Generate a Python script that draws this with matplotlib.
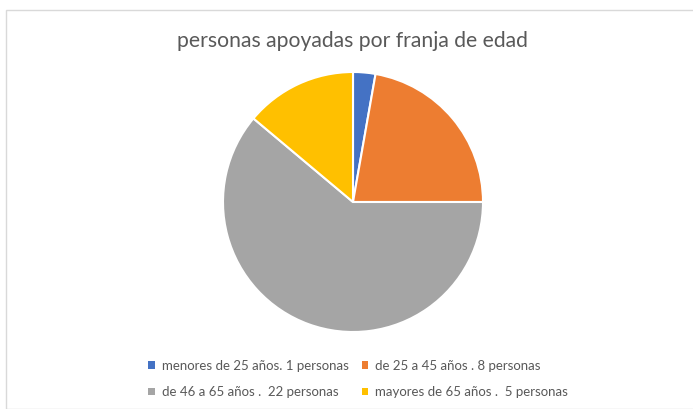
import matplotlib
matplotlib.use("Agg")
import matplotlib.pyplot as plt
from matplotlib.patches import Rectangle

labels = ["menores de 25 años. 1 personas", "de 25 a 45 años . 8 personas",
          "de 46 a 65 años .  22 personas", "mayores de 65 años .  5 personas"]
values = [1, 8, 22, 5]
colors = ["#4472C4", "#ED7D31", "#A5A5A5", "#FFC000"]
title = "personas apoyadas por franja de edad"

plt.rcParams['font.family'] = ['Lato', 'DejaVu Sans']
W, H = 693, 409
fig = plt.figure(figsize=(W/100, H/100), dpi=100)
fig.patch.set_facecolor("white")
fig.patches.append(Rectangle((6/W, 0), 1, 1 - 10/H, transform=fig.transFigure,
                             fill=False, edgecolor="#D9D9D9", linewidth=1.0))

r = 130
cx, cy = 353, 202
ax = fig.add_axes([(cx - r)/W, (H - cy - r)/H, 2*r/W, 2*r/H])
wedges, _ = ax.pie(values, colors=colors, startangle=90, counterclock=False,
                   radius=1.0, wedgeprops=dict(edgecolor="white", linewidth=1.5))
ax.set_xlim(-1, 1); ax.set_ylim(-1, 1)
ax.set_aspect("equal")
ax.axis("off")

fig.text(352/W, 1 - 41/H, title, ha="center", va="center", fontsize=15.2, color="#595959")

order = [0, 2, 1, 3]  # row-major fill for 2 columns
leg = fig.legend([wedges[i] for i in order], [labels[i] for i in order], ncol=2,
                 loc="center", bbox_to_anchor=(358/W, 1 - 379/H),
                 frameon=False, fontsize=9.5, labelcolor="#595959", handlelength=0.5,
                 handleheight=0.5, handletextpad=0.5, columnspacing=1.0, labelspacing=1.1)
for h in leg.legend_handles:
    h.set_edgecolor("none")

fig.savefig("out.png", dpi=100)
